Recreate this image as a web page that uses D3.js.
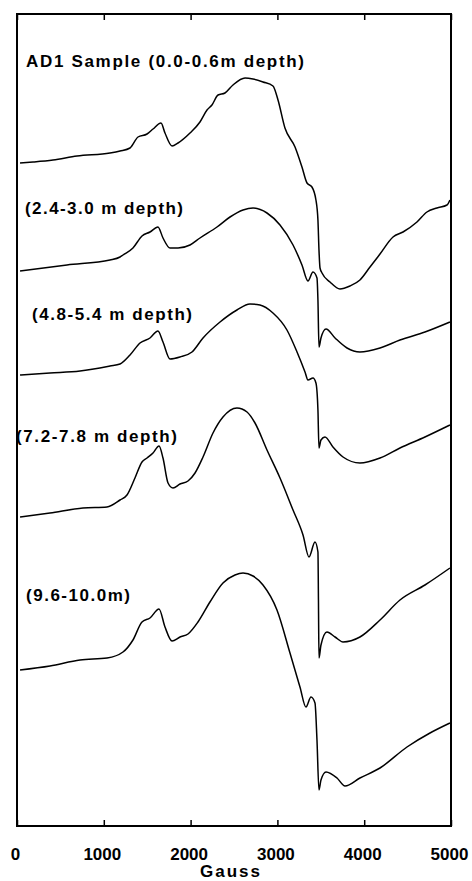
<!DOCTYPE html>
<html>
<head>
<meta charset="utf-8">
<script src="https://cdn.jsdelivr.net/npm/d3@7"></script>
<style>
  body { margin: 0; background: #fff; }
  svg { display: block; font-family: "Liberation Sans", Arial, sans-serif; }
</style>
</head>
<body>
<svg id="chart" width="472" height="881"></svg>
<script>
// field axis (Gauss)
const xTicks = [0, 1000, 2000, 3000, 4000, 5000];

// spectrum labels, one per trace (top to bottom)
const labels = [
  'AD1 Sample (0.0-0.6m depth)',
  '(2.4-3.0 m depth)',
  '(4.8-5.4 m depth)',
  '(7.2-7.8 m depth)',
  '(9.6-10.0m)'
];

// vertical offset of each trace (arbitrary units)
const offsets = [663, 555, 451, 309, 156];

// [field (G), intensity (a.u.)]
const trace1 = [
  [35, 0], [184, 1], [415, 3], [691, 7], [1071, 10], [1187, 12], [1302, 15],
  [1394, 26], [1498, 29], [1567, 34], [1659, 40], [1705, 30], [1786, 17],
  [1855, 20], [1993, 30], [2108, 41], [2189, 53], [2246, 58], [2316, 68],
  [2396, 70], [2488, 78], [2627, 85], [2719, 84], [2834, 81], [2949, 77],
  [3007, 63], [3087, 35], [3203, 16], [3283, -4], [3341, -20], [3398, -24],
  [3444, -37], [3467, -57], [3479, -87], [3491, -105], [3514, -110],
  [3606, -119], [3721, -126], [3836, -123], [3951, -117], [4067, -104],
  [4182, -91], [4332, -74], [4447, -69], [4608, -59], [4723, -49],
  [4838, -45], [4954, -42], [4988, -37]
];
const trace2 = [
  [35, 0], [576, 6], [1071, 11], [1187, 14], [1221, 16], [1336, 23],
  [1440, 35], [1532, 39], [1624, 44], [1682, 33], [1763, 23], [1855, 23],
  [1993, 26], [2108, 33], [2304, 44], [2454, 54], [2604, 61], [2719, 63],
  [2880, 58], [3030, 46], [3180, 26], [3283, 6], [3352, -10], [3410, -1],
  [3456, -7], [3467, -29], [3479, -76], [3502, -67], [3560, -58],
  [3664, -67], [3802, -77], [3951, -81], [4182, -77], [4412, -69],
  [4700, -61], [4988, -51]
];
const trace3 = [
  [35, 0], [380, 2], [726, 4], [1071, 9], [1187, 11], [1302, 20],
  [1417, 32], [1532, 37], [1624, 44], [1682, 33], [1763, 16], [1878, 18],
  [2016, 23], [2143, 37], [2339, 53], [2534, 65], [2684, 71], [2799, 70],
  [2949, 62], [3110, 45], [3226, 23], [3318, 3], [3352, -5], [3410, -3],
  [3444, -8], [3467, -35], [3479, -73], [3502, -65], [3548, -62],
  [3640, -72], [3756, -82], [3951, -88], [4182, -83], [4412, -73],
  [4700, -62], [4988, -50]
];
const trace4 = [
  [35, 0], [380, 4], [760, 9], [1037, 10], [1187, 17], [1267, 22],
  [1359, 39], [1440, 55], [1498, 59], [1567, 64], [1636, 71], [1682, 59],
  [1740, 34], [1797, 29], [1878, 33], [1970, 36], [2051, 44], [2143, 60],
  [2258, 84], [2373, 100], [2534, 109], [2650, 105], [2742, 94],
  [2880, 67], [3030, 39], [3180, 7], [3295, -18], [3364, -40], [3433, -25],
  [3467, -35], [3473, -83], [3479, -141], [3502, -128], [3571, -115],
  [3664, -120], [3756, -125], [3951, -120], [4182, -103], [4412, -83],
  [4700, -68], [4988, -51]
];
const trace5 = [
  [35, 0], [380, 4], [726, 10], [1037, 12], [1221, 18], [1336, 30],
  [1440, 48], [1532, 52], [1636, 61], [1705, 43], [1786, 29], [1878, 33],
  [1970, 36], [2085, 48], [2223, 68], [2373, 87], [2511, 95], [2604, 97],
  [2719, 94], [2834, 85], [2995, 60], [3145, 17], [3260, -17], [3329, -37],
  [3387, -27], [3433, -33], [3456, -70], [3479, -120], [3502, -110],
  [3560, -102], [3687, -108], [3779, -116], [3951, -108], [4182, -98],
  [4493, -77], [4758, -63], [4988, -53]
];
const traces = [trace1, trace2, trace3, trace4, trace5];

const margin = { top: 14, right: 21, bottom: 55, left: 17 };
const width = 472 - margin.left - margin.right;
const height = 881 - margin.top - margin.bottom;

const svg = d3.select('#chart');
const g = svg.append('g')
  .attr('transform', `translate(${margin.left},${margin.top})`);

const x = d3.scaleLinear().domain([0, 5000]).range([0, width]);
const y = d3.scaleLinear().domain([0, height]).range([height, 0]);

// traces
const line = d3.line()
  .x(d => x(d[0]))
  .y(d => y(d[1]))
  .curve(d3.curveMonotoneX);

g.append('g')
  .selectAll('path')
  .data(traces)
  .enter()
  .append('path')
  .attr('d', (d, i) => line(d.map(p => [p[0], p[1] + offsets[i]])))
  .attr('fill', 'none')
  .attr('stroke', '#000')
  .attr('stroke-width', 1.5)
  .attr('stroke-linejoin', 'round');

// labels sit just above the left end of each trace
const labelPos = [
  { x: 9, y: 53, w: 278 },
  { x: 8, y: 200, w: 158 },
  { x: 15, y: 306, w: 160 },
  { x: -1, y: 428, w: 161 },
  { x: 9, y: 587, w: 104 }
];
g.append('g')
  .selectAll('text')
  .data(labels)
  .enter()
  .append('text')
  .attr('x', (d, i) => labelPos[i].x)
  .attr('y', (d, i) => labelPos[i].y)
  .attr('textLength', (d, i) => labelPos[i].w)
  .attr('lengthAdjust', 'spacing')
  .style('font-size', '17px')
  .style('font-weight', 'bold')
  .text(d => d);

// bottom axis: inward ticks, labels below
const xAxisBottom = g.append('g')
  .attr('transform', `translate(0,${height})`)
  .call(d3.axisBottom(x).tickValues(xTicks).tickFormat(d3.format('d'))
    .tickSizeInner(-6).tickSizeOuter(0).tickPadding(22));
xAxisBottom.select('.domain').remove();
xAxisBottom.selectAll('line').attr('stroke', '#000').attr('stroke-width', 1.5);
xAxisBottom.selectAll('text')
  .attr('dx', -2)
  .attr('fill', '#000')
  .style('font-size', '17px')
  .style('font-weight', 'bold')
  .style('font-family', '"Liberation Sans", Arial, sans-serif');

// top axis: ticks only
const xAxisTop = g.append('g')
  .call(d3.axisTop(x).tickValues(xTicks).tickSizeInner(-6).tickSizeOuter(0).tickFormat(''));
xAxisTop.select('.domain').remove();
xAxisTop.selectAll('line').attr('stroke', '#000').attr('stroke-width', 1.5);

// frame
g.append('rect')
  .attr('width', width)
  .attr('height', height)
  .attr('fill', 'none')
  .attr('stroke', '#000')
  .attr('stroke-width', 2);

g.append('text')
  .attr('x', width / 2 - 4)
  .attr('y', height + 51)
  .attr('text-anchor', 'middle')
  .attr('textLength', 60)
  .attr('lengthAdjust', 'spacing')
  .style('font-size', '17px')
  .style('font-weight', 'bold')
  .text('Gauss');
</script>
</body>
</html>
